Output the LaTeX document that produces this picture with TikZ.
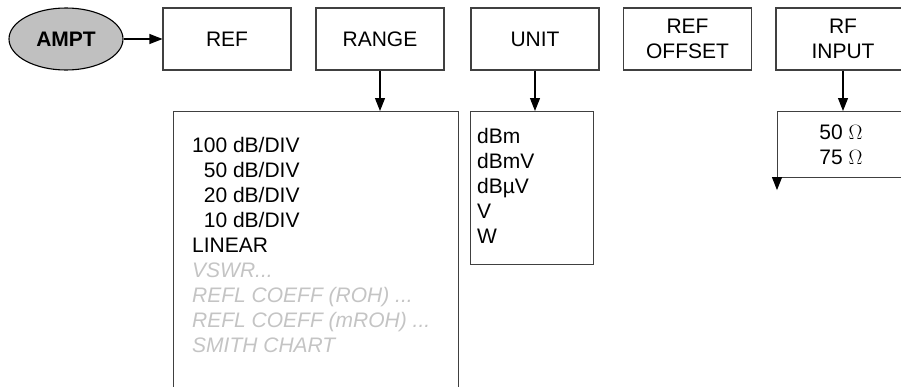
\documentclass[tikz,border=0pt]{standalone}
\usepackage{fontspec}
\setmainfont{Liberation Sans}
\usetikzlibrary{arrows.meta,shapes.geometric}
\definecolor{dimgray}{HTML}{C4C4C4}
\definecolor{edge}{HTML}{404040}
\definecolor{keyfill}{HTML}{C0C0C0}
\newcommand{\dimtxt}[1]{\textcolor{dimgray}{\itshape #1}}
\begin{document}
\begin{tikzpicture}[x=1pt,y=-1pt,
  every node/.style={font=\fontsize{21}{25}\selectfont},
  box/.style={draw=edge,line width=1.1pt,minimum width=128pt,minimum height=62pt,inner sep=0pt,align=center},
  lst/.style={draw=edge,line width=1.1pt,inner sep=0pt,anchor=north west},
  txt/.style={inner sep=0pt,align=left,anchor=north west},
  arr/.style={-{Triangle[length=13pt,width=10pt]},line width=1.1pt}]
\useasboundingbox (0,0) rectangle (901,386);
\begin{scope}
\clip (0,0) rectangle (901,386);
% top row
\node[ellipse,draw=black,line width=1.1pt,fill=keyfill,minimum width=114pt,minimum height=62pt,inner sep=0pt,font=\fontsize{21}{25}\selectfont\bfseries] (ampt) at (66,39) {AMPT};
\node[box] (ref) at (227,39) {REF};
\node[box] (range) at (380,39) {RANGE};
\node[box] (unit) at (535,39) {UNIT};
\node[box] (refoff) at (687.5,39) {REF\\OFFSET};
\node[box,minimum width=134pt] (rfin) at (843,39) {RF\\INPUT};
% lists
\node[lst,minimum width=285pt,minimum height=300pt] (rangelist) at (173,111) {};
\node[txt] (rangetxt) at (192,137) {100 dB/DIV\\\phantom{1}50 dB/DIV\\\phantom{1}20 dB/DIV\\\phantom{1}10 dB/DIV\\LINEAR\\\dimtxt{VSWR...}\\\dimtxt{REFL COEFF (ROH) ...}\\\dimtxt{REFL COEFF (mROH) ...}\\\dimtxt{SMITH CHART}};
\node[lst,minimum width=123pt,minimum height=153pt] (unitlist) at (470,111) {};
\node[txt] (unittxt) at (477,128) {dBm\\dBmV\\dBµV\\V\\W};
\node[lst,minimum width=150pt,minimum height=66pt] (rflist) at (777,111) {};
\node[inner sep=0pt,align=center] (rftxt) at (841,145) {50 $\Omega$\\75 $\Omega$};
\coordinate (rfout) at ([yshift=-12pt]rflist.south west);
% connectors
\draw[arr] (ampt) -- (ref);
\draw[arr] (range.south) -- (range.south |- rangelist.north);
\draw[arr] (unit.south) -- (unit.south |- unitlist.north);
\draw[arr] (rfin.south) -- (rfin.south |- rflist.north);
\draw[arr] (rflist.south west) -- (rfout);
\end{scope}
\end{tikzpicture}
\end{document}
